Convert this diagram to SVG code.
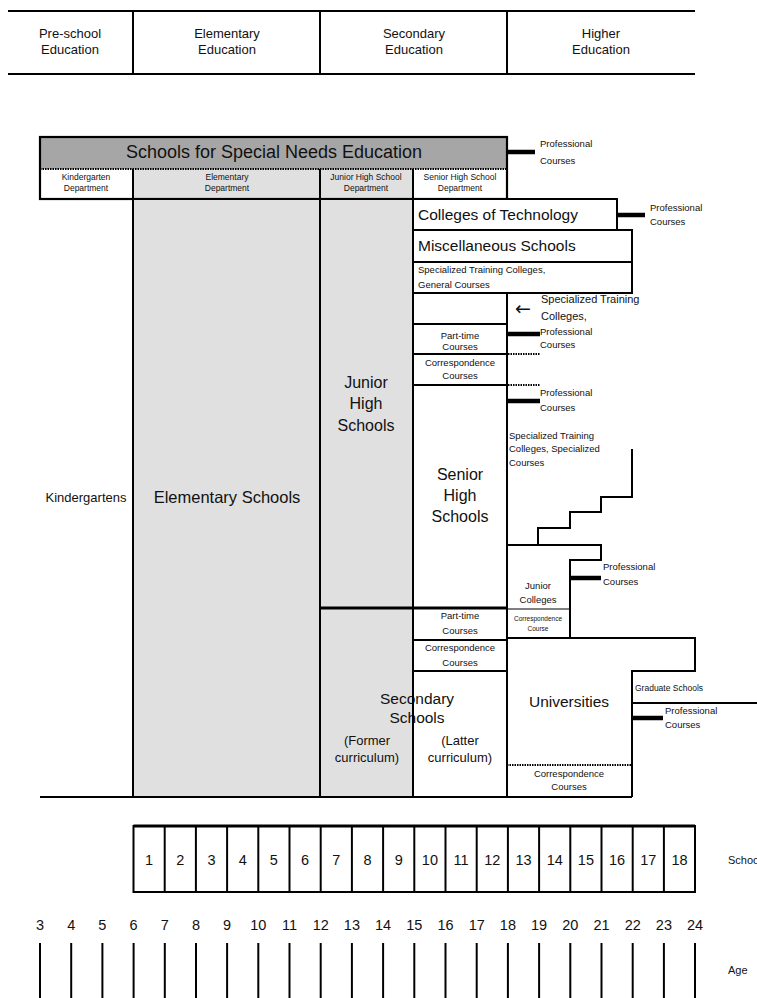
<svg xmlns="http://www.w3.org/2000/svg" width="757" height="998" viewBox="0 0 757 998">
<style>
  text { font-family: "Liberation Sans", Arial, sans-serif; fill: #111; text-anchor: middle; dominant-baseline: central; }
  .ln { stroke: #000; stroke-width: 2; fill: none; }
  .thin { stroke: #000; stroke-width: 1.2; fill: none; }
  .stub { stroke: #000; stroke-width: 4.5; fill: none; }
  .dot { stroke: #000; stroke-width: 2; stroke-dasharray: 1.5 1; fill: none; }
  .box { stroke: #000; stroke-width: 2; fill: #fff; }
  .gray { stroke: #000; stroke-width: 2; fill: #e0e0e0; }
  .hdr { font-size: 13px; }
  .dep { font-size: 8.5px; }
  .sm { font-size: 9.5px; }
  .md { font-size: 9.5px; }
  .lg { font-size: 16px; }
  .cur { font-size: 13px; }
  .num { font-size: 14.5px; }
  .lft { text-anchor: start; }
  .arrow { font-family: "DejaVu Sans", sans-serif; font-size: 19px; }
</style>

<!-- header: education stages -->
<g id="stages">
  <line class="ln" x1="8" y1="11" x2="695" y2="11"/>
  <line class="ln" x1="8" y1="74" x2="695" y2="74"/>
  <line class="ln" x1="133" y1="11" x2="133" y2="74"/>
  <line class="ln" x1="320" y1="11" x2="320" y2="74"/>
  <line class="ln" x1="507" y1="11" x2="507" y2="74"/>
  <text class="hdr" x="70" y="33">Pre-school</text>
  <text class="hdr" x="70" y="49">Education</text>
  <text class="hdr" x="227" y="33">Elementary</text>
  <text class="hdr" x="227" y="49">Education</text>
  <text class="hdr" x="414" y="33">Secondary</text>
  <text class="hdr" x="414" y="49">Education</text>
  <text class="hdr" x="601" y="33">Higher</text>
  <text class="hdr" x="601" y="49">Education</text>
</g>

<!-- schools for special needs education -->
<g id="special-needs">
  <rect x="40" y="137" width="467" height="32" fill="#a6a6a6"/>
  <rect x="133" y="169" width="280" height="30" fill="#e0e0e0"/>
  <line class="dot" x1="40" y1="169" x2="507" y2="169"/>
  <line class="ln" x1="133" y1="169" x2="133" y2="199"/>
  <line class="ln" x1="320" y1="169" x2="320" y2="199"/>
  <line class="ln" x1="413" y1="169" x2="413" y2="199"/>
  <rect x="40" y="137" width="467" height="62" fill="none" stroke="#000" stroke-width="2.2"/>
  <text x="274" y="152" font-size="18">Schools for Special Needs Education</text>
  <text class="dep" x="86" y="177">Kindergarten</text>
  <text class="dep" x="86" y="188">Department</text>
  <text class="dep" x="227" y="177">Elementary</text>
  <text class="dep" x="227" y="188">Department</text>
  <text class="dep" x="366" y="177">Junior High School</text>
  <text class="dep" x="366" y="188">Department</text>
  <text class="dep" x="460" y="177">Senior High School</text>
  <text class="dep" x="460" y="188">Department</text>
  <line class="stub" x1="507" y1="152" x2="535" y2="152"/>
  <text class="sm lft" x="540" y="143">Professional</text>
  <text class="sm lft" x="540" y="160">Courses</text>
</g>

<g id="kindergartens">
  <text x="86" y="497" font-size="13">Kindergartens</text>
</g>

<g id="elementary-schools">
  <rect class="gray" x="133" y="199" width="187" height="598"/>
  <text x="227" y="497" font-size="16.5">Elementary Schools</text>
</g>

<g id="junior-high-schools">
  <rect class="gray" x="320" y="199" width="93" height="409"/>
  <text class="lg" x="366" y="382">Junior</text>
  <text class="lg" x="366" y="403">High</text>
  <text class="lg" x="366" y="425">Schools</text>
</g>

<g id="colleges-of-technology">
  <rect class="box" x="413" y="199" width="204" height="31"/>
  <text class="lft" x="418" y="214" font-size="15.5">Colleges of Technology</text>
  <line class="stub" x1="617" y1="215" x2="645" y2="215"/>
  <text class="sm lft" x="650" y="207">Professional</text>
  <text class="sm lft" x="650" y="221">Courses</text>
</g>

<g id="miscellaneous-schools">
  <rect class="box" x="413" y="230" width="219" height="32"/>
  <text class="lft" x="418" y="245" font-size="15.5">Miscellaneous Schools</text>
</g>

<g id="specialized-general">
  <rect class="box" x="413" y="262" width="219" height="31"/>
  <text class="md lft" x="418" y="269">Specialized Training Colleges,</text>
  <text class="md lft" x="418" y="284">General Courses</text>
</g>

<g id="specialized-professional">
  <rect class="box" x="413" y="293" width="94" height="31"/>
  <text class="arrow" x="523" y="308">←</text>
  <text class="lft" x="541" y="299" font-size="11">Specialized Training</text>
  <text class="lft" x="541" y="316" font-size="11">Colleges,</text>
</g>

<g id="senior-part-time">
  <rect class="box" x="413" y="324" width="94" height="30"/>
  <text class="sm" x="460" y="335">Part-time</text>
  <text class="sm" x="460" y="346">Courses</text>
  <line class="stub" x1="507" y1="334" x2="540" y2="334"/>
  <text class="sm lft" x="540" y="331">Professional</text>
  <text class="sm lft" x="540" y="344">Courses</text>
</g>

<g id="senior-correspondence">
  <rect class="box" x="413" y="354" width="94" height="31"/>
  <line class="dot" x1="413" y1="354" x2="540" y2="354"/>
  <text class="sm" x="460" y="362">Correspondence</text>
  <text class="sm" x="460" y="375">Courses</text>
</g>

<g id="senior-high-schools">
  <rect class="box" x="413" y="385" width="94" height="223"/>
  <line class="dot" x1="413" y1="385" x2="540" y2="385" stroke-width="3"/>
  <text class="lg" x="460" y="474">Senior</text>
  <text class="lg" x="460" y="495">High</text>
  <text class="lg" x="460" y="516">Schools</text>
  <line class="stub" x1="507" y1="401" x2="540" y2="401"/>
  <text class="sm lft" x="540" y="392">Professional</text>
  <text class="sm lft" x="540" y="407">Courses</text>
  <text class="sm lft" x="509" y="435">Specialized Training</text>
  <text class="sm lft" x="509" y="448">Colleges, Specialized</text>
  <text class="sm lft" x="509" y="462">Courses</text>
</g>

<g id="junior-colleges">
  <path class="ln" d="M507,545 H601 V560 H570 V638"/>
  <line class="thin" x1="507" y1="609" x2="570" y2="609"/>
  <text class="sm" x="538" y="585">Junior</text>
  <text class="sm" x="538" y="599">Colleges</text>
  <text x="538" y="618" font-size="6.5">Correspondence</text>
  <text x="538" y="628" font-size="6.5">Course</text>
  <line class="stub" x1="570" y1="578" x2="601" y2="578"/>
  <text class="sm lft" x="603" y="566">Professional</text>
  <text class="sm lft" x="603" y="581">Courses</text>
</g>

<g id="secondary-schools">
  <rect class="gray" x="320" y="608" width="93" height="189"/>
  <rect class="box" x="413" y="608" width="94" height="32"/>
  <rect class="box" x="413" y="640" width="94" height="31"/>
  <rect x="413" y="671" width="94" height="126" fill="#fff"/>
  <text class="sm" x="460" y="615">Part-time</text>
  <text class="sm" x="460" y="630">Courses</text>
  <text class="sm" x="460" y="647">Correspondence</text>
  <text class="sm" x="460" y="662">Courses</text>
  <text x="417" y="698" font-size="15.5">Secondary</text>
  <text x="417" y="717" font-size="15.5">Schools</text>
  <text class="cur" x="367" y="740">(Former</text>
  <text class="cur" x="367" y="757">curriculum)</text>
  <text class="cur" x="460" y="740">(Latter</text>
  <text class="cur" x="460" y="757">curriculum)</text>
  <rect x="413" y="671" width="94" height="126" fill="none" stroke="#000" stroke-width="2"/>
  <line class="dot" x1="413" y1="671" x2="507" y2="671" stroke-width="3"/>
  <line x1="320" y1="608" x2="507" y2="608" stroke="#000" stroke-width="3"/>
</g>

<g id="universities">
  <path class="ln" d="M507,638 H695 V671 H632 V797" stroke-width="2.5"/>
  <line class="dot" x1="507" y1="765" x2="632" y2="765" stroke-width="2.5"/>
  <text x="569" y="701" font-size="15.5">Universities</text>
  <text class="sm" x="569" y="773">Correspondence</text>
  <text class="sm" x="569" y="786">Courses</text>
  <text class="lft" x="635" y="688" font-size="8.5">Graduate Schools</text>
  <line class="ln" x1="632" y1="703" x2="757" y2="703"/>
  <line class="stub" x1="632" y1="718" x2="663" y2="718"/>
  <text class="sm lft" x="665" y="710">Professional</text>
  <text class="sm lft" x="665" y="724">Courses</text>
</g>

<!-- connectors: column divider, staircase, base line -->
<g id="connectors">
  <line class="ln" x1="507" y1="293" x2="507" y2="797"/>
  <path class="ln" d="M538,545 V528 H570 V512 H601 V497 H632 V449"/>
  <line class="ln" x1="40" y1="797" x2="632" y2="797"/>
</g>

<!-- school year scale -->
<g id="school-year">
  <rect x="133.5" y="826" width="561.5" height="66" fill="none" stroke="#000" stroke-width="2"/>
  <line x1="133.5" y1="826" x2="695" y2="826" stroke="#000" stroke-width="3"/>
  <g class="ln">
    <line x1="164.7" y1="826" x2="164.7" y2="892"/>
    <line x1="195.9" y1="826" x2="195.9" y2="892"/>
    <line x1="227.1" y1="826" x2="227.1" y2="892"/>
    <line x1="258.3" y1="826" x2="258.3" y2="892"/>
    <line x1="289.5" y1="826" x2="289.5" y2="892"/>
    <line x1="320.7" y1="826" x2="320.7" y2="892"/>
    <line x1="351.9" y1="826" x2="351.9" y2="892"/>
    <line x1="383.1" y1="826" x2="383.1" y2="892"/>
    <line x1="414.3" y1="826" x2="414.3" y2="892"/>
    <line x1="445.5" y1="826" x2="445.5" y2="892"/>
    <line x1="476.7" y1="826" x2="476.7" y2="892"/>
    <line x1="507.9" y1="826" x2="507.9" y2="892"/>
    <line x1="539.1" y1="826" x2="539.1" y2="892"/>
    <line x1="570.3" y1="826" x2="570.3" y2="892"/>
    <line x1="601.5" y1="826" x2="601.5" y2="892"/>
    <line x1="632.7" y1="826" x2="632.7" y2="892"/>
    <line x1="663.9" y1="826" x2="663.9" y2="892"/>
  </g>
  <g class="num">
    <text x="149" y="860">1</text>
    <text x="180.3" y="860">2</text>
    <text x="211.5" y="860">3</text>
    <text x="242.7" y="860">4</text>
    <text x="273.9" y="860">5</text>
    <text x="305.1" y="860">6</text>
    <text x="336.3" y="860">7</text>
    <text x="367.5" y="860">8</text>
    <text x="398.7" y="860">9</text>
    <text x="429.9" y="860">10</text>
    <text x="461.1" y="860">11</text>
    <text x="492.3" y="860">12</text>
    <text x="523.5" y="860">13</text>
    <text x="554.7" y="860">14</text>
    <text x="585.9" y="860">15</text>
    <text x="617.1" y="860">16</text>
    <text x="648.3" y="860">17</text>
    <text x="679.5" y="860">18</text>
  </g>
  <text class="lft" x="728" y="860" font-size="11">School Year</text>
</g>

<!-- age scale -->
<g id="age">
  <g class="num">
    <text x="40" y="925">3</text>
    <text x="71.2" y="925">4</text>
    <text x="102.4" y="925">5</text>
    <text x="133.6" y="925">6</text>
    <text x="164.8" y="925">7</text>
    <text x="196" y="925">8</text>
    <text x="227.1" y="925">9</text>
    <text x="258.3" y="925">10</text>
    <text x="289.5" y="925">11</text>
    <text x="320.7" y="925">12</text>
    <text x="351.9" y="925">13</text>
    <text x="383.1" y="925">14</text>
    <text x="414.3" y="925">15</text>
    <text x="445.5" y="925">16</text>
    <text x="476.7" y="925">17</text>
    <text x="507.9" y="925">18</text>
    <text x="539.1" y="925">19</text>
    <text x="570.3" y="925">20</text>
    <text x="601.5" y="925">21</text>
    <text x="632.7" y="925">22</text>
    <text x="663.9" y="925">23</text>
    <text x="695" y="925">24</text>
  </g>
  <g class="ln">
    <line x1="40" y1="943" x2="40" y2="998"/>
    <line x1="71.2" y1="943" x2="71.2" y2="998"/>
    <line x1="102.4" y1="943" x2="102.4" y2="998"/>
    <line x1="133.6" y1="943" x2="133.6" y2="998"/>
    <line x1="164.8" y1="943" x2="164.8" y2="998"/>
    <line x1="196" y1="943" x2="196" y2="998"/>
    <line x1="227.1" y1="943" x2="227.1" y2="998"/>
    <line x1="258.3" y1="943" x2="258.3" y2="998"/>
    <line x1="289.5" y1="943" x2="289.5" y2="998"/>
    <line x1="320.7" y1="943" x2="320.7" y2="998"/>
    <line x1="351.9" y1="943" x2="351.9" y2="998"/>
    <line x1="383.1" y1="943" x2="383.1" y2="998"/>
    <line x1="414.3" y1="943" x2="414.3" y2="998"/>
    <line x1="445.5" y1="943" x2="445.5" y2="998"/>
    <line x1="476.7" y1="943" x2="476.7" y2="998"/>
    <line x1="507.9" y1="943" x2="507.9" y2="998"/>
    <line x1="539.1" y1="943" x2="539.1" y2="998"/>
    <line x1="570.3" y1="943" x2="570.3" y2="998"/>
    <line x1="601.5" y1="943" x2="601.5" y2="998"/>
    <line x1="632.7" y1="943" x2="632.7" y2="998"/>
    <line x1="663.9" y1="943" x2="663.9" y2="998"/>
    <line x1="695" y1="943" x2="695" y2="998"/>
  </g>
  <text class="lft" x="728" y="970" font-size="11">Age</text>
</g>
</svg>
